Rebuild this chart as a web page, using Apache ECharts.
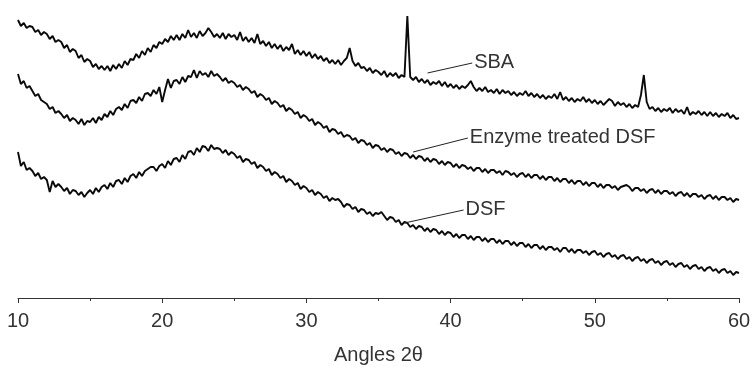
<!DOCTYPE html>
<html>
<head>
<meta charset="utf-8">
<title>XRD patterns</title>
<script src="https://cdn.jsdelivr.net/npm/echarts@6/dist/echarts.min.js"></script>
<style>
  html, body { margin: 0; padding: 0; background: #fff; }
  #chart { width: 752px; height: 367px; }
</style>
</head>
<body>
<div id="chart"></div>
<script>
// scan: 10 - 60 deg 2theta, 0.2 deg step (values in arbitrary, offset units)
const angleStart = 10;
const angleStep = 0.2;

const sbaData = [
  278, 272, 275, 270, 272,  271, 266, 268, 263, 266,  264, 259, 262, 256, 258,  256, 250, 253, 246, 249,
  247, 240, 243, 236, 239,  237, 231, 234, 229, 232,  228, 232, 227, 233, 229,  234, 230, 237, 233, 239,
  238, 244, 240, 247, 243,  250, 246, 253, 250, 256,  254, 259, 256, 262, 258,  263, 258, 264, 260, 268,
  261, 265, 260, 267, 262,  265, 270, 266, 261, 264,  260, 265, 259, 264, 261,  263, 258, 266, 257, 261,
  256, 260, 255, 264, 254,  257, 252, 256, 250, 254,  249, 253, 247, 251, 248,  254, 244, 248, 243, 247,
  242, 246, 240, 244, 239,  242, 237, 240, 235, 238,  234, 238, 233, 237, 240,  250, 237, 232, 235, 230,
  231, 227, 230, 225, 228,  226, 223, 227, 221, 225,  222, 225, 220, 223, 221,  282, 221, 218, 221, 216,
  219, 215, 218, 213, 216,  214, 217, 212, 216, 211,  214, 210, 213, 209, 212,  210, 213, 217, 211, 207,
  210, 207, 211, 206, 208,  205, 209, 204, 208, 205,  207, 203, 206, 202, 205,  203, 207, 202, 205, 201,
  204, 200, 203, 199, 202,  200, 204, 199, 206, 198,  201, 197, 200, 196, 199,  197, 201, 196, 199, 195,
  198, 194, 197, 193, 196,  199, 197, 192, 196, 193,  195, 191, 194, 190, 193,  191, 203, 223, 196, 189,
  191, 187, 190, 186, 189,  187, 190, 185, 189, 186,  188, 184, 191, 183, 186,  184, 187, 183, 186, 182,
  186, 182, 185, 181, 184,  182, 185, 180, 183, 179,  180
];

const enzymeData = [
  224, 214, 217, 210, 212,  207, 202, 204, 198, 196,  194, 189, 191, 185, 187,  184, 180, 183, 177, 180,
  178, 174, 179, 173, 177,  176, 180, 175, 181, 178,  184, 181, 187, 183, 189,  191, 188, 194, 190, 197,
  198, 195, 201, 197, 204,  205, 202, 208, 204, 211,  196, 208, 219, 210, 217,  218, 214, 221, 216, 222,
  221, 228, 220, 227, 223,  225, 221, 227, 222, 224,  221, 217, 220, 215, 217,  215, 211, 213, 208, 211,
  209, 205, 207, 201, 204,  202, 198, 200, 194, 197,  195, 191, 193, 187, 190,  188, 184, 186, 180, 183,
  181, 177, 179, 173, 176,  174, 170, 172, 166, 169,  168, 164, 166, 161, 163,  162, 158, 160, 155, 158,
  157, 153, 155, 150, 153,  152, 148, 150, 146, 149,  148, 144, 146, 142, 145,  144, 140, 143, 139, 142,
  141, 137, 140, 136, 139,  138, 134, 137, 133, 136,  135, 131, 134, 130, 133,  132, 129, 131, 127, 130,
  130, 126, 129, 125, 128,  128, 125, 127, 123, 127,  126, 123, 125, 121, 124,  125, 121, 124, 120, 123,
  123, 119, 122, 118, 121,  121, 117, 120, 116, 119,  119, 115, 118, 114, 117,  117, 113, 116, 112, 115,
  115, 111, 114, 110, 113,  113, 110, 112, 108, 111,  112, 113, 111, 107, 110,  110, 107, 109, 105, 108,
  109, 105, 108, 104, 107,  107, 104, 106, 102, 105,  106, 102, 105, 101, 104,  104, 101, 103, 99, 102,
  103, 99, 102, 98, 101,  101, 98, 100, 96, 99,  98
];

const dsfData = [
  146, 132, 136, 128, 130,  127, 122, 125, 119, 121,  118, 106, 117, 111, 114,  111, 107, 110, 104, 108,
  107, 103, 106, 101, 105,  108, 104, 110, 106, 111,  113, 109, 115, 111, 117,  118, 114, 120, 116, 122,
  124, 120, 126, 122, 127,  129, 131, 131, 127, 132,  134, 130, 137, 133, 139,  140, 136, 143, 139, 146,
  147, 143, 150, 146, 152,  151, 147, 153, 149, 150,  149, 145, 148, 143, 146,  144, 140, 142, 136, 139,
  138, 134, 136, 130, 133,  131, 127, 129, 123, 126,  124, 120, 122, 116, 119,  117, 113, 115, 109, 112,
  110, 106, 108, 103, 106,  104, 100, 102, 97, 100,  98, 99, 96, 91, 94,  93, 89, 91, 86, 89,
  88, 84, 86, 82, 85,  84, 86, 82, 78, 81,  80, 76, 78, 73, 76,  75, 71, 73, 69, 72,
  71, 67, 70, 66, 69,  68, 64, 67, 63, 66,  65, 61, 64, 60, 63,  63, 59, 62, 58, 61,
  61, 57, 60, 56, 59,  59, 55, 58, 54, 57,  57, 53, 56, 52, 55,  55, 51, 54, 50, 53,
  53, 49, 52, 48, 51,  51, 48, 50, 46, 50,  50, 46, 49, 45, 48,  48, 45, 47, 43, 46,
  47, 43, 45, 41, 44,  45, 41, 43, 39, 42,  43, 39, 41, 37, 40,  41, 37, 39, 35, 38,
  39, 35, 37, 33, 36,  37, 33, 35, 31, 34,  35, 31, 33, 29, 32,  33, 29, 31, 27, 30,
  31, 27, 29, 25, 28,  29, 25, 27, 23, 26,  25
];

// label leader lines: [angle, value] start and end
const sbaLeader = [[38.4, 225], [41.5, 235]];
const enzymeLeader = [[37.4, 146], [41.2, 160]];
const dsfLeader = [[36.8, 75], [40.9, 88]];

const FONT = 'Liberation Sans, Arial, sans-serif';

function toPairs(arr) {
  return arr.map((v, i) => [+(angleStart + i * angleStep).toFixed(1), v]);
}

function makeSeries(name, data, leader) {
  return {
    name: name,
    type: 'line',
    data: toPairs(data),
    symbol: 'none',
    animation: false,
    lineStyle: { color: '#0a0a0a', width: 1.9 },
    markLine: {
      silent: true,
      symbol: ['none', 'none'],
      animation: false,
      lineStyle: { color: '#222', width: 1, type: 'solid' },
      label: {
        show: true,
        position: 'end',
        distance: 2,
        formatter: name,
        color: '#333',
        fontSize: 20,
        fontFamily: FONT
      },
      data: [[{ coord: leader[0] }, { coord: leader[1] }]]
    }
  };
}

const chart = echarts.init(document.getElementById('chart'));
chart.setOption({
  backgroundColor: '#fff',
  grid: { left: 18, right: 13, top: 0, bottom: 69, outerBoundsMode: 'none' },
  xAxis: {
    type: 'value',
    min: 10,
    max: 60,
    interval: 10,
    name: 'Angles 2θ',
    nameLocation: 'middle',
    nameGap: 47,
    nameTextStyle: { color: '#333', fontSize: 20, fontFamily: FONT },
    axisLine: { lineStyle: { color: '#333', width: 1 } },
    axisTick: { show: true, length: 5, lineStyle: { color: '#333' } },
    minorTick: { show: true, splitNumber: 2, length: 3, lineStyle: { color: '#333' } },
    axisLabel: { color: '#333', fontSize: 20, fontFamily: FONT, margin: 13 },
    splitLine: { show: false }
  },
  yAxis: {
    type: 'value',
    min: 0,
    max: 298,
    show: false
  },
  series: [
    makeSeries('SBA', sbaData, sbaLeader),
    makeSeries('Enzyme treated DSF', enzymeData, enzymeLeader),
    makeSeries('DSF', dsfData, dsfLeader)
  ]
});
</script>
</body>
</html>
